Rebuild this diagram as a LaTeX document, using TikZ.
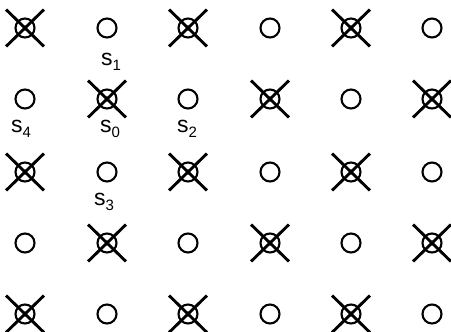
\documentclass[tikz,border=0pt]{standalone}
\usepackage{fontspec}
\setmainfont{Liberation Sans}
\usetikzlibrary{shapes.misc}

\newcommand{\site}[2]{s\raisebox{-0.45ex}{\fontsize{15}{15}\selectfont #2}}

\tikzset{
	open/.style={circle, draw, line width=2.1pt, minimum size=19pt, inner sep=0pt},
	hit/.style={cross out, draw, line width=2.9pt, minimum width=35pt, minimum height=34pt, inner sep=0pt},
	lbl/.style={anchor=base west, inner sep=0pt, font=\fontsize{23}{26}\selectfont}
}

\begin{document}
\begin{tikzpicture}[x=1pt,y=-1pt]
		\useasboundingbox (0,0) rectangle (451,332);
		% row 0
		\node[open] (a0) at (25,28) {};
		\node[open] (a1) at (107,28) {};
		\node[open] (a2) at (188,28) {};
		\node[open] (a3) at (270,28) {};
		\node[open] (a4) at (351,28) {};
		\node[open] (a5) at (432,28) {};
		% row 1
		\node[open] (b0) at (25,99) {};
		\node[open] (b1) at (107,99) {};
		\node[open] (b2) at (188,99) {};
		\node[open] (b3) at (270,99) {};
		\node[open] (b4) at (351,99) {};
		\node[open] (b5) at (432,99) {};
		% row 2
		\node[open] (c0) at (25,172) {};
		\node[open] (c1) at (107,172) {};
		\node[open] (c2) at (188,172) {};
		\node[open] (c3) at (270,172) {};
		\node[open] (c4) at (351,172) {};
		\node[open] (c5) at (432,172) {};
		% row 3
		\node[open] (d0) at (25,243) {};
		\node[open] (d1) at (107,243) {};
		\node[open] (d2) at (188,243) {};
		\node[open] (d3) at (270,243) {};
		\node[open] (d4) at (351,243) {};
		\node[open] (d5) at (432,243) {};
		% row 4
		\node[open] (e0) at (25,314) {};
		\node[open] (e1) at (107,314) {};
		\node[open] (e2) at (188,314) {};
		\node[open] (e3) at (270,314) {};
		\node[open] (e4) at (351,314) {};
		\node[open] (e5) at (432,314) {};
		% crossed sites
		\node[hit] at (a0) {};
		\node[hit] at (a2) {};
		\node[hit] at (a4) {};
		\node[hit] at (b1) {};
		\node[hit] at (b3) {};
		\node[hit] at (b5) {};
		\node[hit] at (c0) {};
		\node[hit] at (c2) {};
		\node[hit] at (c4) {};
		\node[hit] at (d1) {};
		\node[hit] at (d3) {};
		\node[hit] at (d5) {};
		\node[hit] at (e0) {};
		\node[hit] at (e2) {};
		\node[hit] at (e4) {};
		% labels
		\node[lbl] (s1) at (101,65) {\site{s}{1}};
		\node[lbl] (s4) at (11,132) {\site{s}{4}};
		\node[lbl] (s0) at (100,132) {\site{s}{0}};
		\node[lbl] (s2) at (177,132) {\site{s}{2}};
		\node[lbl] (s3) at (94,205) {\site{s}{3}};
	\end{tikzpicture}
\end{document}
